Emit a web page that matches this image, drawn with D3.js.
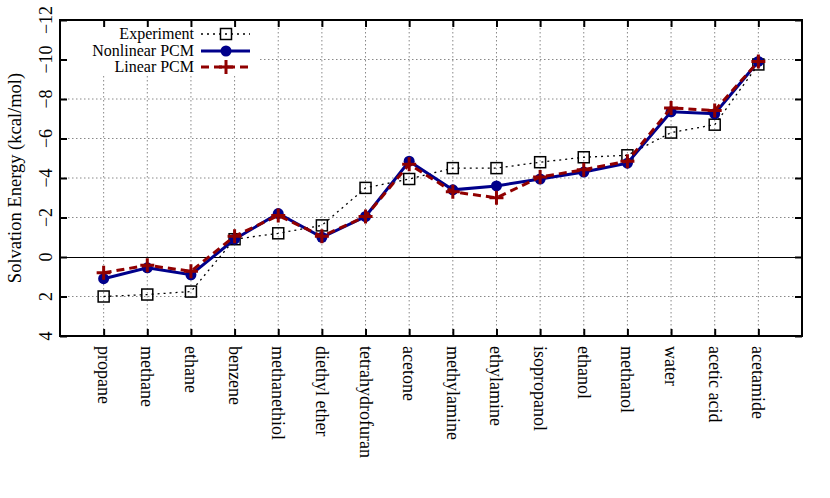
<!DOCTYPE html>
<html><head><meta charset="utf-8">
<script src="https://cdn.jsdelivr.net/npm/d3@7"></script>
<style>body{margin:0;background:#fff}svg{display:block}text{font-family:"Liberation Serif","Times New Roman",serif;}</style>
</head><body>
<svg id="c" width="830" height="498"></svg>
<script>
const categories = ["propane","methane","ethane","benzene","methanethiol","diethyl ether","tetrahydrofuran","acetone","methylamine","ethylamine","isopropanol","ethanol","methanol","water","acetic acid","acetamide"];
const experiment = [2.0, 1.9, 1.75, -0.9, -1.2, -1.6, -3.5, -3.95, -4.5, -4.5, -4.8, -5.05, -5.15, -6.3, -6.7, -9.75];
const nonlinearPCM = [1.1, 0.55, 0.9, -0.9, -2.2, -1.0, -2.05, -4.85, -3.4, -3.6, -3.95, -4.3, -4.75, -7.35, -7.25, -9.9];
const linearPCM = [0.8, 0.42, 0.72, -1.05, -2.1, -1.05, -2.05, -4.7, -3.3, -3.0, -4.05, -4.42, -4.85, -7.55, -7.42, -9.9];
const yTicks = [-12, -10, -8, -6, -4, -2, 0, 2, 4];
const seriesNames = ["Experiment", "Nonlinear PCM", "Linear PCM"];

const svg = d3.select("#c");
const L = 60, R = 802, T = 20, B = 336;
const x = d3.scaleLinear().domain([-1, 16]).range([L, R]);
const y = d3.scaleLinear().domain([-12, 4]).range([T, B]);
const idx = categories.map((d, i) => i);

// grid
const grid = svg.append("g").attr("stroke", "#888").attr("stroke-width", 1).attr("stroke-dasharray", "1.5,2.5");
idx.forEach(i => grid.append("line").attr("x1", x(i)).attr("x2", x(i)).attr("y1", T).attr("y2", B));
yTicks.filter(v => v > -12 && v < 4 && v !== 0).forEach(v => grid.append("line").attr("x1", L).attr("x2", R).attr("y1", y(v)).attr("y2", y(v)));
// zero line
svg.append("line").attr("x1", L).attr("x2", R).attr("y1", y(0) + 0.5).attr("y2", y(0) + 0.5).attr("stroke", "#000").attr("stroke-width", 1.2);

// legend background mask
svg.append("rect").attr("x", L + 2).attr("y", T + 2).attr("width", 196).attr("height", 53).attr("fill", "#fff");

// axes with inward ticks
const tl = 7;
const yAxisL = d3.axisLeft(y).tickValues(yTicks).tickSizeInner(-tl).tickSizeOuter(0).tickFormat("");
const yAxisR = d3.axisRight(y).tickValues(yTicks).tickSizeInner(-tl).tickSizeOuter(0).tickFormat("");
const xAxisB = d3.axisBottom(x).tickValues(idx).tickSizeInner(-tl).tickSizeOuter(0).tickFormat("");
const xAxisT = d3.axisTop(x).tickValues(idx).tickSizeInner(-tl).tickSizeOuter(0).tickFormat("");
[[yAxisL, `translate(${L},0)`], [yAxisR, `translate(${R},0)`], [xAxisB, `translate(0,${B})`], [xAxisT, `translate(0,${T})`]].forEach(([ax, tr]) => {
  const g = svg.append("g").attr("transform", tr).call(ax);
  g.select(".domain").remove();
  g.selectAll(".tick line").attr("stroke", "#000").attr("stroke-width", 2);
});

// y tick labels (rotated)
yTicks.forEach(v => {
  svg.append("text").attr("transform", `translate(${L - 8},${y(v)}) rotate(-90)`)
    .attr("text-anchor", "middle").attr("font-size", 18).attr("fill", "#000")
    .text(v < 0 ? "\u2212" + Math.abs(v) : String(v));
});
// y label
svg.append("text").attr("transform", `translate(21,${(T + B) / 2}) rotate(-90)`)
  .attr("text-anchor", "middle").attr("font-size", 18.5).attr("fill", "#000").text("Solvation Energy (kcal/mol)");

// x tick labels
categories.forEach((c, i) => {
  svg.append("text").attr("transform", `translate(${x(i) - 6},${B + 10}) rotate(90)`)
    .attr("text-anchor", "start").attr("font-size", 18).attr("fill", "#000").text(c);
});

// series
const line = d3.line().x((d, i) => x(i)).y(d => y(d));
function squares(g, data, cx, cy) {
  g.append("rect").attr("x", cx - 5.5).attr("y", cy - 5.5).attr("width", 11).attr("height", 11)
   .attr("fill", "none").attr("stroke", "#000").attr("stroke-width", 1.5);
}
function circle(g, cx, cy) {
  g.append("circle").attr("cx", cx).attr("cy", cy).attr("r", 5.5).attr("fill", "#00008b");
}
function plus(g, cx, cy) {
  g.append("path").attr("d", `M${cx - 7},${cy}H${cx + 7}M${cx},${cy - 7}V${cy + 7}`).attr("stroke", "#900000").attr("stroke-width", 3).attr("fill", "none");
}
const gE = svg.append("g");
gE.append("path").datum(experiment).attr("d", line).attr("fill", "none").attr("stroke", "#000").attr("stroke-width", 1.3).attr("stroke-dasharray", "2,4");
experiment.forEach((v, i) => squares(gE, v, x(i), y(v)));
const gN = svg.append("g");
gN.append("path").datum(nonlinearPCM).attr("d", line).attr("fill", "none").attr("stroke", "#00008b").attr("stroke-width", 3);
nonlinearPCM.forEach((v, i) => circle(gN, x(i), y(v)));
const gL = svg.append("g");
gL.append("path").datum(linearPCM).attr("d", line).attr("fill", "none").attr("stroke", "#900000").attr("stroke-width", 3).attr("stroke-dasharray", "8,5");
linearPCM.forEach((v, i) => plus(gL, x(i), y(v)));

// legend
const lg = svg.append("g");
const rows = [34, 51, 67];
seriesNames.forEach((n, k) => {
  lg.append("text").attr("x", 194).attr("y", rows[k]).attr("dy", "0.33em").attr("text-anchor", "end").attr("font-size", 16).attr("fill", "#000").text(n);
});
lg.append("line").attr("x1", 201).attr("x2", 250).attr("y1", rows[0]).attr("y2", rows[0]).attr("stroke", "#000").attr("stroke-width", 1.3).attr("stroke-dasharray", "2,4");
squares(lg, 0, 226, rows[0]);
lg.append("line").attr("x1", 201).attr("x2", 250).attr("y1", rows[1]).attr("y2", rows[1]).attr("stroke", "#00008b").attr("stroke-width", 3);
circle(lg, 226, rows[1]);
lg.append("line").attr("x1", 201).attr("x2", 250).attr("y1", rows[2]).attr("y2", rows[2]).attr("stroke", "#900000").attr("stroke-width", 3).attr("stroke-dasharray", "8,5");
plus(lg, 226, rows[2]);

// border
svg.append("rect").attr("x", L).attr("y", T).attr("width", R - L).attr("height", B - T).attr("fill", "none").attr("stroke", "#000").attr("stroke-width", 2);
</script>
</body></html>
